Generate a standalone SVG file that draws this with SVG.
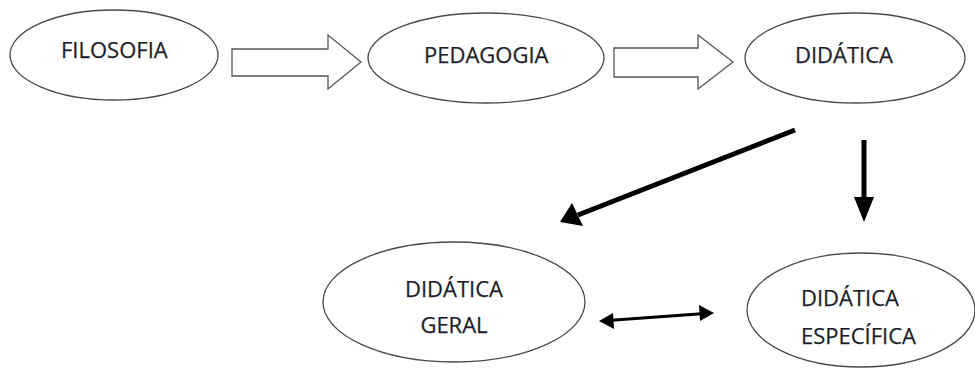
<svg xmlns="http://www.w3.org/2000/svg" width="975" height="371" viewBox="0 0 975 371">
  <style>
    .node ellipse { fill: #ffffff; stroke: #4a4a4a; stroke-width: 1.3; }
    .label { font-family: "Open Sans", "Noto Sans", "DejaVu Sans", sans-serif; font-size: 22px; fill: #1e1e28; stroke: #1e1e28; stroke-width: 0.25; }
    .hollow { fill: #ffffff; stroke: #555555; stroke-width: 1.3; stroke-linejoin: miter; }
    .solid { stroke: #000000; fill: none; stroke-linecap: butt; }
    .head { fill: #000000; stroke: none; }
  </style>
  <rect width="975" height="371" fill="#ffffff"/>

  <g id="filosofia" class="node">
    <ellipse cx="114" cy="55" rx="104" ry="45"/>
    <text class="label" x="61" y="58">FILOSOFIA</text>
  </g>

  <g id="pedagogia" class="node">
    <ellipse cx="486" cy="58" rx="118" ry="45"/>
    <text class="label" x="424" y="63">PEDAGOGIA</text>
  </g>

  <g id="didatica" class="node">
    <ellipse cx="855" cy="58" rx="110" ry="45"/>
    <text class="label" x="795" y="63">DIDÁTICA</text>
  </g>

  <g id="didatica-geral" class="node">
    <ellipse cx="454" cy="302" rx="131" ry="60"/>
    <text class="label" x="454" y="297" text-anchor="middle">DIDÁTICA</text>
    <text class="label" x="454" y="333" text-anchor="middle">GERAL</text>
  </g>

  <g id="didatica-especifica" class="node">
    <ellipse cx="861" cy="310" rx="114" ry="57"/>
    <text class="label" x="801" y="306">DIDÁTICA</text>
    <text class="label" x="801" y="344">ESPECÍFICA</text>
  </g>

  <g id="connectors">
    <!-- block arrows along the top row -->
    <polygon class="hollow" points="232,49 328,49 328,35 361,62 328,89 328,76 232,76"/>
    <polygon class="hollow" points="614,48 698,48 698,35 733,62 698,89 698,77 614,77"/>

    <!-- DIDÁTICA to DIDÁTICA GERAL -->
    <line class="solid" x1="795" y1="130" x2="578" y2="215" stroke-width="5"/>
    <polygon class="head" points="560,222 572,203 583,226"/>

    <!-- DIDÁTICA to DIDÁTICA ESPECÍFICA -->
    <line class="solid" x1="864" y1="140" x2="864" y2="198" stroke-width="5"/>
    <polygon class="head" points="854,197 874,197 864,222"/>

    <!-- two-way link between the lower nodes -->
    <line class="solid" x1="608" y1="320.5" x2="705" y2="313.5" stroke-width="3"/>
    <polygon class="head" points="599,321 613,313 614,329"/>
    <polygon class="head" points="714,313 699,305 700,321"/>
  </g>
</svg>
